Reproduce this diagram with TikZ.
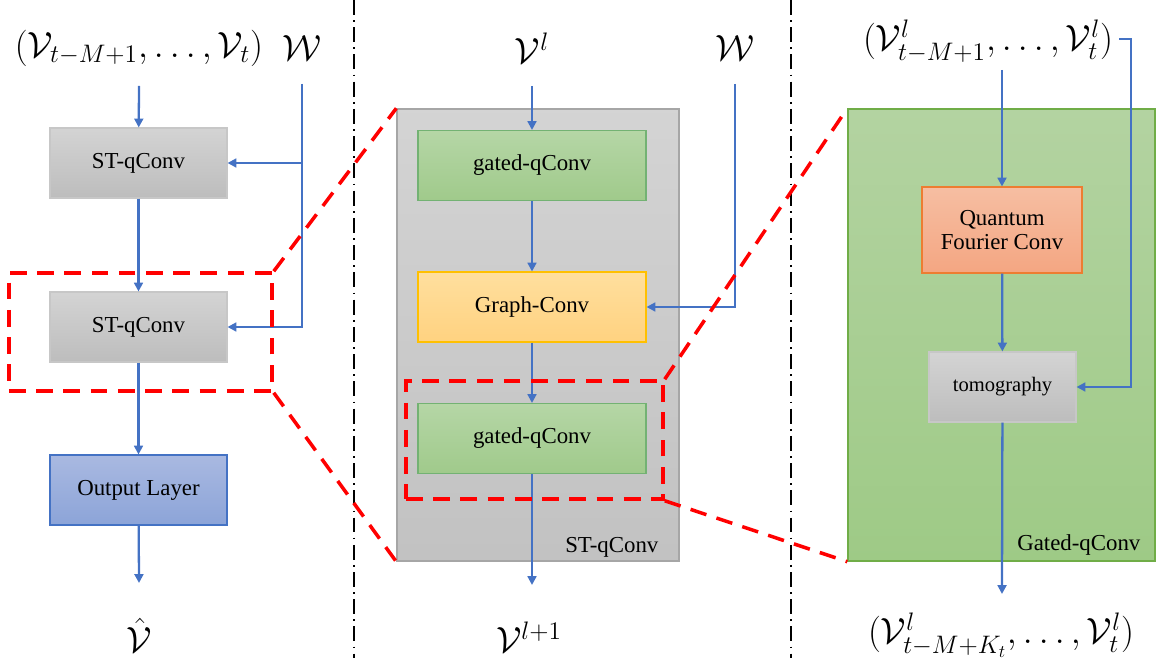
\documentclass[tikz,border=0pt]{standalone}
\usepackage[no-math]{fontspec}
\setmainfont{Liberation Serif}
\usepackage{amsmath}
\usepackage{tikz}
\usetikzlibrary{arrows.meta}
\usetikzlibrary{positioning}

\definecolor{lineblue}{HTML}{4472C4}
\definecolor{zoomred}{HTML}{FF0000}

\begin{document}
\begin{tikzpicture}[x=0.2mm, y=-0.2mm, font=\fontsize{13}{15}\selectfont,
    box/.style={draw, minimum width=3.54cm, minimum height=1.4cm, inner sep=0pt, line width=0.6pt},
    wide/.style={minimum width=4.56cm},
    greybox/.style={box, draw=black!22, top color=black!17, bottom color=black!26},
    greenbox/.style={box, draw=green!45!black!55!white, top color={rgb,255:red,181;green,214;blue,166}, bottom color={rgb,255:red,160;green,202;blue,139}},
    math/.style={font=\fontsize{19.5}{23}\selectfont, inner sep=0pt},
    bigmath/.style={font=\fontsize{20.3}{24}\selectfont, inner sep=0pt},
    flow/.style={draw=lineblue, line width=1.3pt, -{Triangle[length=5pt,width=5pt]}},
    zoombox/.style={draw=zoomred, line width=2pt, dash pattern=on 9.5pt off 6pt, minimum height=2.36cm, inner sep=0pt},
    zoomline/.style={draw=zoomred, line width=2pt, dash pattern=on 9.5pt off 6pt},
    sep/.style={line width=0.85pt, dash pattern=on 8.5pt off 3pt on 1pt off 3pt}]

    \useasboundingbox (0,0) rectangle (1156,661);

    % column separators
    \draw[sep] (354,0) -- (354,658);
    \draw[sep] (791,0) -- (791,658);

    % the two zoomed blocks
    \node[draw={rgb,255:red,166;green,166;blue,166}, line width=0.8pt, top color=black!17, bottom color=black!24,
          minimum width=5.64cm, minimum height=9.04cm] (stM) at (538,335) {};
    \node[draw={rgb,255:red,112;green,173;blue,71}, line width=0.8pt,
          top color={rgb,255:red,179;green,211;blue,161}, bottom color={rgb,255:red,158;green,202;blue,134},
          minimum width=6.14cm, minimum height=9.04cm] (gqR) at (1001.5,335) {};
    \node[inner sep=0pt, above left=0.08cm and 0.42cm of stM.south east] {ST-qConv};
    \node[inner sep=0pt, above left=0.12cm and 0.3cm of gqR.south east] {Gated-qConv};

    % left column
    \node[greybox] (stL1) at (138.5,163) {ST-qConv};
    \node[greybox] (stL2) at (138.5,327) {ST-qConv};
    \node[box, draw=lineblue, top color={rgb,255:red,169;green,185;blue,225}, bottom color={rgb,255:red,140;green,164;blue,216}] (outL) at (138.5,490) {Output Layer};

    % middle column
    \node[greenbox, wide] (gqM1) at (532,165.5) {gated-qConv};
    \node[box, wide, draw={rgb,255:red,255;green,192;blue,0}, top color={rgb,255:red,255;green,223;blue,158}, bottom color={rgb,255:red,255;green,210;blue,128}] (gcM) at (532,307) {Graph-Conv};
    \node[greenbox, wide] (gqM2) at (532,438.5) {gated-qConv};

    % right column
    \node[box, minimum width=3.2cm, minimum height=1.72cm, align=center, draw={rgb,255:red,237;green,125;blue,49},
          top color={rgb,255:red,246;green,190;blue,162}, bottom color={rgb,255:red,244;green,166;blue,130}] (qfc) at (1002,230) {Quantum\\[-1pt]Fourier Conv};
    \node[greybox, minimum width=2.94cm, font=\fontsize{11.7}{14}\selectfont] (tomo) at (1002.5,387) {tomography};

    % inputs and outputs
    \node[math] (inL) at (139,48) {$(\mathcal{V}_{t-M+1},\ldots,\mathcal{V}_t)$};
    \node[math] (wL) at (302,48) {$\mathcal{W}$};
    \node[math] (hatL) at (139,635) {$\hat{\mathcal{V}}$};
    \node[math] (inM) at (532,48) {$\mathcal{V}^l$};
    \node[math] (wM) at (735,48) {$\mathcal{W}$};
    \node[math] (nextM) at (529,637) {$\mathcal{V}^{l+1}$};
    \node[bigmath] (inR) at (988,41) {$(\mathcal{V}^l_{t-M+1},\ldots,\mathcal{V}^l_t)$};
    \node[bigmath] (outR) at (1001,635) {$(\mathcal{V}^l_{t-M+K_t},\ldots,\mathcal{V}^l_t)$};

    \coordinate (aL) at (139,86);
    \coordinate (wLtop) at (302,84);
    \coordinate (endL) at (139,583);
    \coordinate (aM) at (532,86);
    \coordinate (wMtop) at (735,84);
    \coordinate (endM) at (532,585);
    \coordinate (aR) at (1002,70);
    \coordinate (endR) at (1002,594);
    \coordinate (rStart) at (1119,39);
    \coordinate (rBend) at (1131,39);

    % connectors
    \draw[flow] (aL) -- (stL1);
    \draw[flow] (stL1) -- (stL2);
    \draw[flow] (stL2) -- (outL);
    \draw[flow] (outL) -- (endL);
    \draw[flow] (wLtop) |- (stL1);
    \draw[flow] (wLtop) |- (stL2);

    \draw[flow] (aM) -- (gqM1);
    \draw[flow] (gqM1) -- (gcM);
    \draw[flow] (gcM) -- (gqM2);
    \draw[flow] (gqM2) -- (endM);
    \draw[flow] (wMtop) |- (gcM);

    \draw[flow] (aR) -- (qfc);
    \draw[flow] (qfc) -- (tomo);
    \draw[flow] (tomo) -- (endR);
    \draw[flow] (rStart) -- (rBend) |- (tomo);

    % zoom frames
    \node[zoombox, minimum width=5.26cm] (zL) at (140.5,332) {};
    \node[zoombox, minimum width=5.14cm] (zM) at (534.5,440) {};
    \draw[zoomline] (zL.north east) -- (stM.north west);
    \draw[zoomline] (zL.south east) -- (stM.south west);
    \draw[zoomline] (zM.north east) -- (gqR.north west);
    \draw[zoomline] (zM.south east) -- (gqR.south west);
\end{tikzpicture}
\end{document}
